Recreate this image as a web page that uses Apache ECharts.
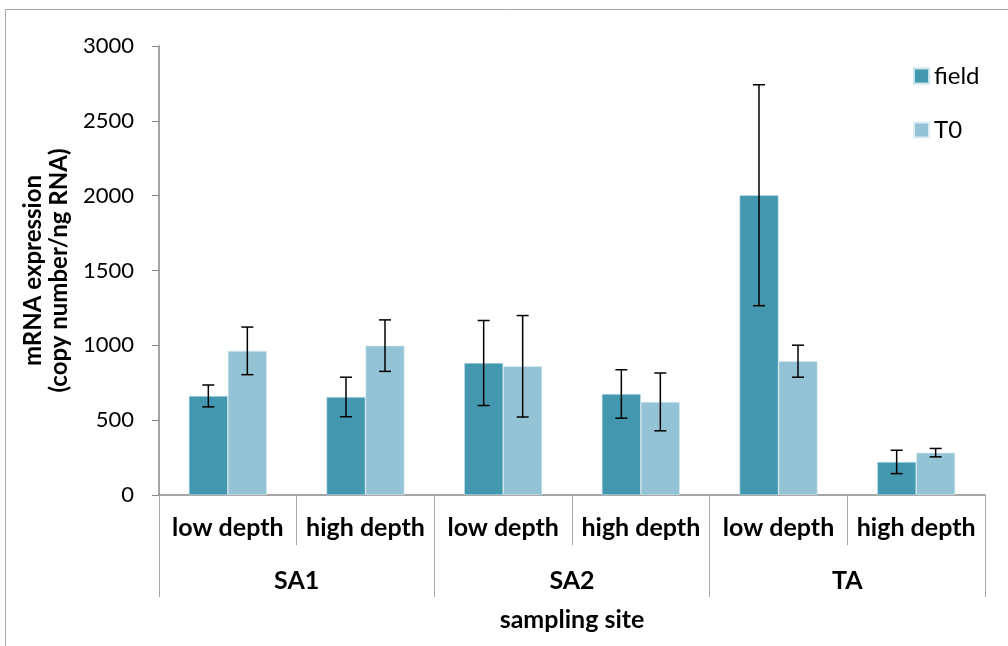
<!DOCTYPE html>
<html><head><meta charset="utf-8">
<script src="https://cdn.jsdelivr.net/npm/echarts@6/dist/echarts.min.js"></script>
<style>html,body{margin:0;padding:0;background:#fff}#c{width:1008px;height:646px}</style>
</head><body><div id="c"></div>
<script>
const subCategories = ['low depth','high depth','low depth','high depth','low depth','high depth'];
const sites = ['SA1','SA2','TA'];
const fieldValues = [662, 655, 882, 675, 2003, 221];
const fieldErrors = [73, 132, 284, 162, 738, 78];
const t0Values = [963, 998, 860, 622, 894, 283];
const t0Errors = [159, 172, 339, 193, 107, 28];
const yTicks = [0, 500, 1000, 1500, 2000, 2500, 3000];

const FONT = 'Lato';
const BAR_W = 39;

function errSeries(name, vals, errs, side) {
  return {
    type: 'custom', name: name + ' err', xAxisIndex: 0, yAxisIndex: 0, z: 10,
    data: vals.map((v, i) => [i, v, errs[i]]),
    renderItem: function (params, api) {
      const i = api.value(0), v = api.value(1), e = api.value(2);
      const c = api.coord([i, v]);
      const x = c[0] + side * BAR_W / 2;
      const top = api.coord([i, v + e])[1];
      const bot = api.coord([i, v - e])[1];
      const s = { stroke: '#000', lineWidth: 1.5 };
      return { type: 'group', children: [
        { type: 'line', shape: { x1: x, y1: top, x2: x, y2: bot }, style: s },
        { type: 'line', shape: { x1: x - 6, y1: top, x2: x + 6, y2: top }, style: s },
        { type: 'line', shape: { x1: x - 6, y1: bot, x2: x + 6, y2: bot }, style: s }
      ]};
    },
    tooltip: { show: false }
  };
}

const chart = echarts.init(document.getElementById('c'), null, { renderer: 'canvas' });
chart.setOption({
  animation: false,
  backgroundColor: '#fff',
  textStyle: { fontFamily: FONT },
  graphic: [{ type: 'rect', shape: { x: 5.5, y: 9.5, width: 1020, height: 660 }, style: { fill: 'none', stroke: '#a6a6a6', lineWidth: 1 }, z: -10 }],
  legend: {
    orient: 'vertical', left: 913, top: 64, padding: 0, itemWidth: 15, itemHeight: 15, itemGap: 30,
    icon: 'rect', textStyle: { fontSize: 24, color: '#000', fontFamily: FONT },
    data: ['field', 'T0']
  },
  grid: { left: 159, right: 23, top: 46, bottom: 151 },
  xAxis: [
    {
      type: 'category', data: subCategories, position: 'bottom',
      axisLine: { lineStyle: { color: '#868686', width: 1.5 } },
      axisTick: { show: true, interval: 0, length: 50, lineStyle: { color: '#a6a6a6' } },
      axisLabel: { interval: 0, margin: 20, fontSize: 25, fontWeight: 'bold', color: '#000', fontFamily: FONT }
    },
    {
      type: 'category', data: sites, position: 'bottom',
      axisLine: { show: false },
      axisTick: { show: true, interval: 0, length: 102, lineStyle: { color: '#a6a6a6' } },
      axisLabel: { interval: 0, margin: 73, fontSize: 25, fontWeight: 'bold', color: '#000', fontFamily: FONT },
      name: 'sampling site', nameLocation: 'middle', nameGap: 112,
      nameTextStyle: { fontSize: 25, fontWeight: 'bold', color: '#000', fontFamily: FONT }
    }
  ],
  yAxis: {
    type: 'value', min: 0, max: 3000, interval: 500,
    name: 'mRNA expression\n(copy number/ng RNA)', nameLocation: 'middle', nameGap: 86, nameRotate: 90,
    nameTextStyle: { fontSize: 24, fontWeight: 'bold', color: '#000', lineHeight: 26, fontFamily: FONT },
    axisLine: { show: true, lineStyle: { color: '#868686', width: 1.5 } },
    axisTick: { show: true, length: 7, lineStyle: { color: '#868686' } },
    splitLine: { show: false },
    axisLabel: { fontSize: 22, color: '#000', margin: 25, fontFamily: FONT,
      formatter: v => yTicks.includes(v) ? String(v) : '' }
  },
  series: [
    { type: 'bar', name: 'field', data: fieldValues, barWidth: BAR_W, barGap: '0%',
      itemStyle: { color: '#4398b0', borderColor: '#c8e4ec', borderWidth: 0.6 } },
    { type: 'bar', name: 'T0', data: t0Values, barWidth: BAR_W, barGap: '0%',
      itemStyle: { color: '#93c3d5', borderColor: '#dcedf3', borderWidth: 0.6 } },
    errSeries('field', fieldValues, fieldErrors, -1),
    errSeries('T0', t0Values, t0Errors, 1)
  ]
});
</script></body></html>
